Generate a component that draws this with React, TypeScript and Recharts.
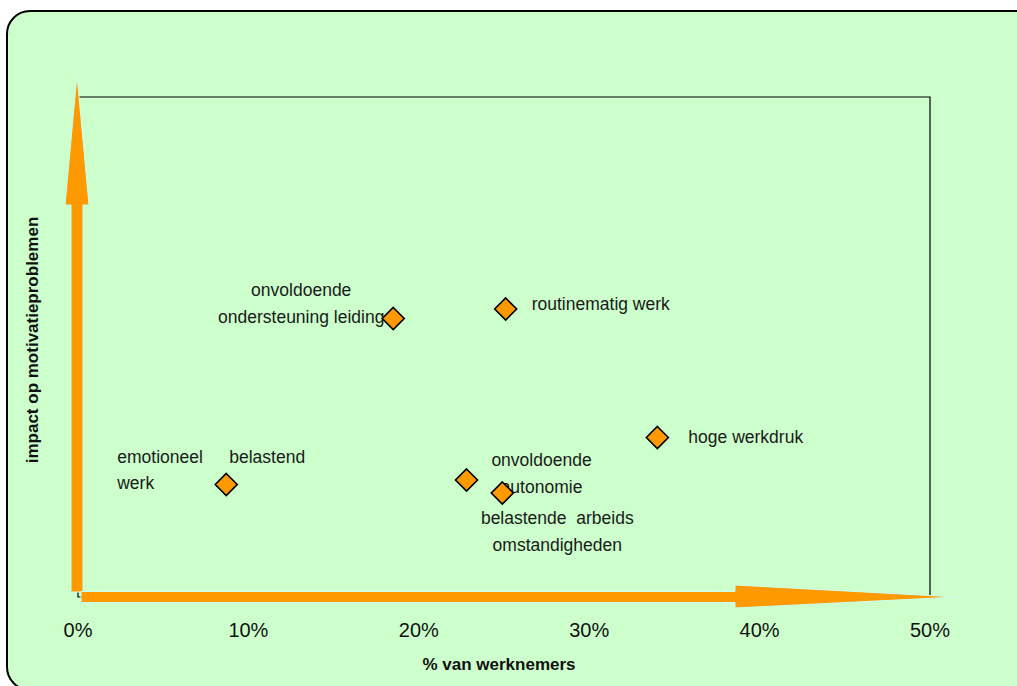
import React from 'react';
import { ScatterChart, Scatter, XAxis, YAxis, ReferenceArea } from 'recharts';

// werkfactoren: % werknemers (x) tegen impact op motivatie (y, relatieve schaal)
const categories = [
  'onvoldoende ondersteuning leiding',
  'routinematig werk',
  'hoge werkdruk',
  'emotioneel belastend werk',
  'onvoldoende autonomie',
  'belastende arbeidsomstandigheden',
];
const pctWorkers = [18.5, 25.1, 34.0, 8.7, 22.8, 24.9];
const impact = [55.7, 57.6, 31.9, 22.5, 23.4, 20.8];
const xTicks = [0, 10, 20, 30, 40, 50];

// label text per point, and where it sits relative to the marker
const labelLines = [
  ['onvoldoende', 'ondersteuning leiding'],
  ['routinematig werk'],
  ['hoge werkdruk'],
  ['emotioneel', 'werk', 'belastend'],
  ['onvoldoende', 'autonomie'],
  ['belastende  arbeids', 'omstandigheden'],
];
const labelPos: { dx: number; dy: number; anchor: 'start' | 'middle' }[][] = [
  [{ dx: -92, dy: -23, anchor: 'middle' }, { dx: -92, dy: 4, anchor: 'middle' }],
  [{ dx: 26, dy: 1, anchor: 'start' }],
  [{ dx: 31, dy: 5, anchor: 'start' }],
  [{ dx: -109, dy: -22, anchor: 'start' }, { dx: -109, dy: 4, anchor: 'start' }, { dx: 3, dy: -22, anchor: 'start' }],
  [{ dx: 75, dy: -14, anchor: 'middle' }, { dx: 75, dy: 13, anchor: 'middle' }],
  [{ dx: 55, dy: 31, anchor: 'middle' }, { dx: 55, dy: 58, anchor: 'middle' }],
];

const data = categories.map((name, i) => ({ name, idx: i, x: pctWorkers[i], y: impact[i] }));

const W = 1017;
const H = 686;
const M = { top: 97, right: 87, bottom: 9, left: 78 };
const X_AXIS_H = 80;
const plotLeft = M.left;
const plotRight = W - M.right;
const plotTop = M.top;
const plotBottom = H - M.bottom - X_AXIS_H;

const FONT = '"Liberation Sans", Arial, sans-serif';
const ORANGE = '#FF9900';

const Marker = (props: any) => {
  const { cx, cy, payload } = props;
  const r = 11;
  const i = payload.idx;
  return (
    <g>
      <polygon
        points={`${cx},${cy - r} ${cx + r},${cy} ${cx},${cy + r} ${cx - r},${cy}`}
        fill={ORANGE}
        stroke="#000"
        strokeWidth={1.6}
      />
      {labelLines[i].map((t, k) => (
        <text
          key={k}
          x={cx + labelPos[i][k].dx}
          y={cy + labelPos[i][k].dy}
          textAnchor={labelPos[i][k].anchor}
          fontSize={17.5}
          fontFamily={FONT}
          fill="#1a1a1a"
          style={{ whiteSpace: 'pre' }}
        >
          {t}
        </text>
      ))}
    </g>
  );
};

function Arrows() {
  const vx = plotLeft - 1;
  const hy = plotBottom;
  return (
    <svg width={W} height={H} style={{ position: 'absolute', left: 0, top: 0, pointerEvents: 'none' }}>
      {/* vertical arrow */}
      <polygon
        points={`${vx - 6},${plotBottom - 5} ${vx - 6},${plotTop + 108} ${vx - 12},${plotTop + 108} ${vx},${plotTop - 22} ${vx + 12},${plotTop + 108} ${vx + 6},${plotTop + 108} ${vx + 6},${plotBottom - 5}`}
        fill={ORANGE}
        stroke="#ccffee"
        strokeWidth={1}
      />
      {/* horizontal arrow */}
      <polygon
        points={`${plotLeft + 3},${hy - 5.5} ${plotRight - 195},${hy - 5.5} ${plotRight - 195},${hy - 12} ${plotRight + 27},${hy} ${plotRight - 195},${hy + 11} ${plotRight - 195},${hy + 5.5} ${plotLeft + 3},${hy + 5.5}`}
        fill={ORANGE}
        stroke="#ccffee"
        strokeWidth={1}
      />
      <text
        transform={`rotate(-90 38 340)`}
        x={38}
        y={340}
        textAnchor="middle"
        fontSize={17}
        fontWeight="bold"
        fontFamily={FONT}
        fill="#111"
      >
        impact op motivatieproblemen
      </text>
    </svg>
  );
}

export default function App() {
  return (
    <div style={{ position: 'fixed', left: 0, top: 0, width: W, height: H, background: '#fff', overflow: 'hidden' }}>
      <div
        style={{
          position: 'absolute',
          left: 6,
          top: 10,
          width: 1040,
          height: 681,
          border: '2px solid #000',
          borderRadius: 24,
          background: '#CCFFCC',
          boxSizing: 'border-box',
        }}
      />
      <div style={{ position: 'absolute', left: 0, top: 0 }}>
        <ScatterChart width={W} height={H} margin={M}>
          <XAxis
            type="number"
            dataKey="x"
            domain={[0, 50]}
            ticks={xTicks}
            tickFormatter={(v) => `${v}%`}
            axisLine={false}
            tickLine={false}
            tickSize={0}
            tickMargin={26}
            height={X_AXIS_H}
            tick={{ fontSize: 20, fill: '#111', fontFamily: FONT }}
            label={{
              value: '% van werknemers',
              position: 'insideBottom',
              offset: 7,
              dx: -5,
              fontSize: 17,
              fontWeight: 'bold',
              fontFamily: FONT,
              fill: '#111',
            }}
          />
          <YAxis type="number" dataKey="y" domain={[0, 100]} hide />
          <ReferenceArea x1={0} x2={50} y1={0} y2={100} fill="none" stroke="#000" strokeWidth={1.2} />
          <Scatter data={data} shape={Marker} isAnimationActive={false} />
        </ScatterChart>
      </div>
      <Arrows />
    </div>
  );
}
